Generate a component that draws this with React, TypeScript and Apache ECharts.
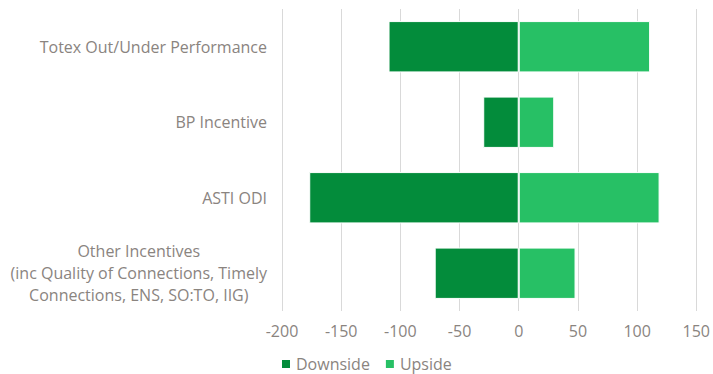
import React, { useEffect, useRef } from "react";
import * as echarts from "echarts";

const categories = [
  "Totex Out/Under Performance",
  "BP Incentive",
  "ASTI ODI",
  "Other Incentives\n(inc Quality of Connections, Timely\nConnections, ENS, SO:TO, IIG)",
];
const downside = [-110, -30, -177, -71];
const upside = [111, 30, 119, 48];
const xTicks = { min: -200, max: 150, interval: 50 };

const TEXT = "#8a847f";
const FONT = "Open Sans";

export default function App() {
  const ref = useRef<HTMLDivElement>(null);
  useEffect(() => {
    if (!ref.current) return;
    const chart = echarts.init(ref.current, undefined, { renderer: "svg" });
    chart.setOption({
      animation: false,
      textStyle: { fontFamily: FONT },
      grid: { left: 282, right: 14, top: 9, bottom: 63, containLabel: false },
      legend: {
        data: ["Downside", "Upside"],
        bottom: 1,
        left: 280,
        padding: 0,
        icon: "rect",
        itemWidth: 10,
        itemHeight: 10,
        itemGap: 14,
        textStyle: { color: TEXT, fontSize: 16, fontFamily: FONT, lineHeight: 18 },
      },
      xAxis: {
        type: "value",
        min: xTicks.min,
        max: xTicks.max,
        interval: xTicks.interval,
        axisLine: { show: false },
        axisTick: { show: false },
        splitLine: { show: true, lineStyle: { color: "#d9d9d9", width: 1 } },
        axisLabel: { color: TEXT, fontSize: 16, margin: 12, fontFamily: FONT },
      },
      yAxis: {
        type: "category",
        data: categories,
        inverse: true,
        axisLine: { show: false },
        axisTick: { show: false },
        axisLabel: {
          color: TEXT,
          fontSize: 16,
          fontFamily: FONT,
          margin: 15,
          formatter: (v: string) =>
            v.includes("\n")
              ? v
                  .split("\n")
                  .map((l) => `{c|${l}}`)
                  .join("\n")
              : v,
          rich: {
            c: {
              align: "center",
              color: TEXT,
              fontSize: 16,
              fontFamily: FONT,
              lineHeight: 22,
            },
          },
        },
      },
      series: [
        {
          name: "Downside",
          type: "bar",
          stack: "total",
          data: downside,
          barCategoryGap: "32%",
          itemStyle: { color: "#038c3b", borderColor: "#ffffff", borderWidth: 1 },
        },
        {
          name: "Upside",
          type: "bar",
          stack: "total",
          data: upside,
          barCategoryGap: "32%",
          itemStyle: { color: "#27c065", borderColor: "#ffffff", borderWidth: 1 },
        },
      ],
    });
    return () => chart.dispose();
  }, []);
  return <div ref={ref} style={{ width: 713, height: 374, position: "absolute", left: 0, top: 0 }} />;
}
